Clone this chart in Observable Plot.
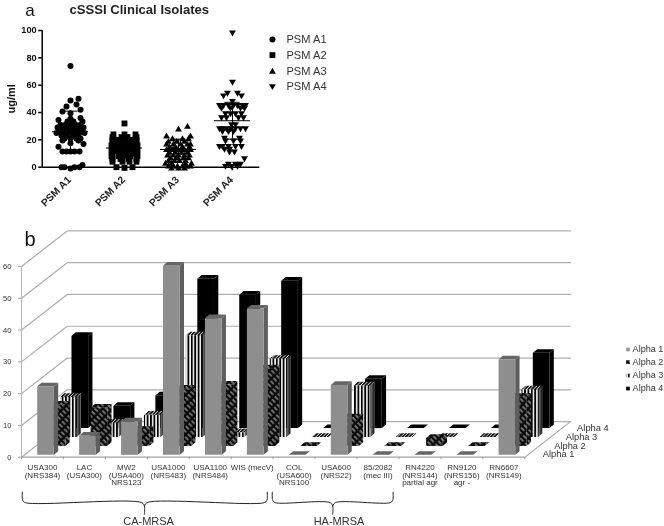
<!DOCTYPE html>
<html>
<head>
<meta charset="utf-8">
<script src="https://cdn.jsdelivr.net/npm/d3@7"></script>
<script src="https://cdn.jsdelivr.net/npm/@observablehq/plot@0.6"></script>
<style>
  html, body { margin: 0; padding: 0; background: #fff; }
  svg { display: block; filter: blur(0.45px); }
</style>
</head>
<body>
<div id="chart"></div>
<script>
// ---------- panel a : rows of [ug/ml, horizontal swarm slots of the points in that row]
const psmNames = ["PSM A1", "PSM A2", "PSM A3", "PSM A4"];
const psmMeans = [26, 14, 13, 34];
const psmSd = [15, 7, 7.5, 13.5];
const psmA1 = [[74,[0]],[50,[8]],[48.8,[0]],[45.9,[6]],[44.4,[-4]],[42,[10]],[40.7,[-8]],[39.5,[0]],[36,[10]],[35.4,[0]],
  [34.6,[-12]],[33.4,[-3,3,12]],[31,[-10,-5,0,5,10]],[29,[-13,-8,-3,3,8,13]],[27,[-11,-6,-2,2,6,11]],[25,[-14,-9,-4,1,5,9,14]],
  [23,[-9,-4,2,7]],[21,[-6,0,6,10]],[19.5,[-8,8]],[17.5,[0]],[17,[13]],[15,[-12]],[11.5,[-8,-4,0,4,9]],[1.7,[12]],[0,[-9,-6,4,9]],[-1,[0]]];
const psmA2 = [[32,[0]],[24,[-11,0,11]],[22,[-12,-3,3,12]],[20,[-12,-7,-2,4,9,12]],[18,[-12,-6,0,6,12]],[16,[-13,-8,-3,3,8,13]],
  [14,[-12,-6,0,6,12]],[12,[-13,-7,-2,4,9,13]],[10,[-12,-5,2,8,12]],[8,[-13,-6,0,6,13]],[6,[-12,-4,4,12]],[4,[-12,-2,5,12]],[0,[-8,8]],[-0.5,[0]]];
const psmA3 = [[30,[9]],[28,[0]],[23,[-12,12]],[21,[-6,4,10]],[19,[-10,-2,6]],[17,[-12,-5,2,9,12]],[15,[-9,-3,4,11]],
  [13,[-12,-6,0,6,12]],[11,[-9,-3,3,9]],[9,[-11,-5,0,6,11]],[7,[-8,-2,5,10]],[5,[-10,-4,1,7]],[3,[-13,-7,7,13]],[1,[-10,-5,-1,4,8,12]],[-0.5,[-7,0,6]]];
const psmA4 = [[98,[0]],[62,[0]],[54,[-5,5]],[52,[-9,9]],[48,[0]],[45,[-13,-9,-4,1,5,10,13]],[43,[-11,-2,8,12]],[39,[-7,-2,3,9]],
  [36,[-11,-6,6,11]],[31,[-1,3]],[28,[-13,-10,-6,-2,3,8,13]],[26,[-10,-4,1]],[21,[-8,7]],[19,[-7,1,8]],[15,[-13,-10,-4,3,9]],[13,[-8,-3]],[11,[-3,2]],[6,[12]],[2,[-4,3,8]],[0.5,[-7,-1,5]]];
const psmSeries = [psmA1, psmA2, psmA3, psmA4];
const yTicksA = [0, 20, 40, 60, 80, 100];

// ---------- panel b
const strains = ["USA300\n(NRS384)", "LAC\n(USA300)", "MW2\n(USA400)\nNRS123", "USA1000\n(NRS483)", "USA1100\n(NRS484)", "WIS (mecV)",
  "COL\n(USA600)\nNRS100", "USA600\n(NRS22)", "85/2082\n(mec III)", "RN4220\n(NRS144)\npartial agr", "RN9120\n(NRS156)\nagr -", "RN6607\n(NRS149)"];
const alpha1 = [21.5, 6, 10.5, 59.5, 43, 46, 0, 22, 0, 0, 0, 30];
const alpha2 = [13, 12, 5, 18, 19.3, 24.4, 0, 9, 0, 2.5, 0, 15.5];
const alpha3 = [12.6, 4.5, 7, 32, 1.5, 24.6, 0, 16.2, 0, 0, 0, 15];
const alpha4 = [29, 7, 10.3, 47, 42, 46.4, 0, 15.5, 0, 0, 0, 23.7];
const alphaNames = ["Alpha 1", "Alpha 2", "Alpha 3", "Alpha 4"];
const yTicksB = [0, 10, 20, 30, 40, 50, 60];
const groups = [{label: "CA-MRSA", from: 0.02, to: 5.86, mid: 2.93, text: 3.03}, {label: "HA-MRSA", from: 5.98, to: 8.86, mid: 7.42, text: 7.57}];

// ---------- panel a plot
const SLOT = 1 / 54;
const symbolUp = {draw(c, s) { const k = Math.sqrt(s / Math.PI); c.moveTo(0, -k * 1.05); c.lineTo(k * 1.1, k * 0.85); c.lineTo(-k * 1.1, k * 0.85); c.closePath(); }};
const symbolDown = {draw(c, s) { const k = Math.sqrt(s / Math.PI); c.moveTo(0, k * 1.05); c.lineTo(k * 1.1, -k * 0.85); c.lineTo(-k * 1.1, -k * 0.85); c.closePath(); }};
const psmSymbols = ["circle", "square", symbolUp, symbolDown];
const psmRadius = [3, 3.3, 3.1, 3.1];
const swarmMarks = psmSeries.map((rows, i) => {
  const pts = rows.flatMap(([v, slots]) => slots.map(s => ({x: i + s * SLOT, v})));
  return Plot.dot(pts, {x: "x", y: "v", symbol: psmSymbols[i], r: psmRadius[i], fill: "#000", stroke: "none"});
});
const psmIdx = psmNames.map((_, i) => i);
const LEG_X = 3.74, LEG_TXT = 4.0;
const legendY = [93.5, 82, 70.3, 58.8];

const chartA = Plot.plot({
  width: 664, height: 215,
  marginLeft: 41.7, marginRight: 404.7, marginTop: 30, marginBottom: 48.3,
  style: {fontFamily: "'Liberation Sans', Arial, sans-serif", background: "transparent", overflow: "visible"},
  x: {domain: [-0.524, 3.506]},
  y: {domain: [0, 100]},
  marks: [
    ...swarmMarks,
    Plot.ruleY(psmIdx, {y: i => psmMeans[i], x1: i => i - 0.333, x2: i => i + 0.333, stroke: "#000", strokeWidth: 1}),
    Plot.ruleX(psmIdx, {x: i => i, y1: i => psmMeans[i] - psmSd[i], y2: i => psmMeans[i] + psmSd[i], stroke: "#000", strokeWidth: 1}),
    Plot.ruleY(psmIdx, {y: i => psmMeans[i] + psmSd[i], x1: i => i - 0.14, x2: i => i + 0.14, stroke: "#000", strokeWidth: 1}),
    Plot.ruleY(psmIdx, {y: i => psmMeans[i] - psmSd[i], x1: i => i - 0.14, x2: i => i + 0.14, stroke: "#000", strokeWidth: 1}),
    Plot.ruleY([0], {stroke: "#000", strokeWidth: 1.5}),
    Plot.ruleX([-0.524], {y1: 0, y2: 100, stroke: "#000", strokeWidth: 1.5}),
    Plot.axisY({ticks: yTicksA, tickSize: 3.5, tickPadding: 2, strokeWidth: 1.5, fontSize: 9.2, fontWeight: "bold", fill: "#111", label: null, tickFormat: d => d}),
    Plot.axisX({ticks: psmIdx, tickSize: 3.5, strokeWidth: 1.5, tickFormat: () => "", label: null}),
    Plot.text(psmIdx, {x: i => i - SLOT, y: -8, text: i => psmNames[i], rotate: -45, textAnchor: "end", fontSize: 10.2, fontWeight: "bold", fill: "#222"}),
    Plot.text(["ug/ml"], {x: -1.1, y: 50, rotate: -90, fontSize: 11, fontWeight: "bold", fill: "#111"}),
    Plot.text(["cSSSI Clinical Isolates"], {x: -0.02, y: 115, textAnchor: "start", fontSize: 13.1, fontWeight: "bold", fill: "#222"}),
    Plot.text(["a"], {x: -0.84, y: 114.4, textAnchor: "start", fontSize: 17, fill: "#111"}),
    ...psmIdx.map(i => Plot.dot([i], {x: () => LEG_X, y: () => legendY[i], symbol: psmSymbols[i], r: psmRadius[i], fill: "#000"})),
    Plot.text(psmIdx, {x: () => LEG_TXT, y: i => legendY[i], text: i => psmNames[i], textAnchor: "start", fontSize: 11.1, fill: "#333"})
  ]
});

// ---------- panel b plot (oblique projection of strain, series depth and value)
const DC = 0.2725, DV = 2.8;            // shift of one depth row, in strain units and value units
const X0 = 0.374, V0 = 0.75, W = 0.398; // bar place inside its strain slot
const SX = 0.1025, SV = 1.15;           // bar depth
const alphaSeries = [alpha1, alpha2, alpha3, alpha4];
const faceFill = [
  {front: "#8e8e8e", side: "#5e5e5e", top: "#666666"},
  {front: "url(#hatch)", side: "url(#hatch)", top: "url(#hatch)"},
  {front: "url(#stripes)", side: "url(#stripesDark)", top: "url(#stripesTop)"},
  {front: "#000", side: "#000", top: "#000"}
];
function faces(r) {
  const front = [], side = [], topFace = [];
  alphaSeries[r].forEach((v, i) => {
    const x = i + X0 + r * DC, b = V0 + r * DV, t = b + v;
    const poly = (arr, pts) => pts.forEach(([px, py]) => arr.push({id: i, px, py}));
    if (v > 0) {
      poly(front, [[x, b], [x + W, b], [x + W, t], [x, t]]);
      poly(side, [[x + W, b], [x + W + SX, b + SV], [x + W + SX, t + SV], [x + W, t]]);
    }
    poly(topFace, [[x, t], [x + W, t], [x + W + SX, t + SV], [x + SX, t + SV]]);
  });
  return {front, side, topFace};
}
const face = (data, fill) => Plot.line(data, {x: "px", y: "py", z: "id", fill, stroke: "none"});
const barMarks = [3, 2, 1, 0].flatMap(r => {
  const f = faces(r);
  return [face(f.side, faceFill[r].side), face(f.topFace, faceFill[r].top), face(f.front, faceFill[r].front)];
});
const wallX = 4 * DC, wallV = 4 * DV;
const gridPts = yTicksB.flatMap(v => [{id: v, px: 0, py: v}, {id: v, px: wallX, py: v + wallV}, {id: v, px: 12 + wallX, py: v + wallV}]);
const edgePts = [{px: 12, py: 0}, {px: 12 + wallX, py: wallV}];
const braceData = groups.flatMap(g => {
  const a = g.label + "a", b = g.label + "b";
  return [
    {id: a, px: g.from, py: -11}, {id: a, px: g.from + 0.01, py: -13.6}, {id: a, px: g.from + 0.07, py: -14.3},
    {id: a, px: g.mid - 0.06, py: -14.3}, {id: a, px: g.mid, py: -15.4}, {id: a, px: g.mid, py: -18},
    {id: b, px: g.to, py: -11}, {id: b, px: g.to - 0.01, py: -13.6}, {id: b, px: g.to - 0.07, py: -14.3},
    {id: b, px: g.mid + 0.06, py: -14.3}, {id: b, px: g.mid, py: -15.4}
  ];
});
const LEGB_X = 14.46, LEGB_TXT = 14.57;
const legendBY = [33.9, 29.9, 25.7, 21.6];
const depthIdx = [0, 1, 2, 3];

const chartB = Plot.plot({
  width: 664, height: 311,
  marginLeft: 21, marginRight: 139.7, marginTop: 51, marginBottom: 69.3,
  style: {fontFamily: "'Liberation Sans', Arial, sans-serif", background: "transparent", overflow: "visible"},
  x: {domain: [0, 12]},
  y: {domain: [0, 60]},
  marks: [
    Plot.line(gridPts, {x: "px", y: "py", z: "id", stroke: "#adadad", strokeWidth: 1.2}),
    Plot.line(edgePts, {x: "px", y: "py", stroke: "#adadad", strokeWidth: 1.2}),
    ...barMarks,
    Plot.ruleX([0], {y1: 0, y2: 60, stroke: "#b5b5b5", strokeWidth: 1}),
    Plot.ruleY([0], {x1: 0, x2: 12, stroke: "#a0a0a0", strokeWidth: 1.2}),
    Plot.axisY({ticks: yTicksB, tickSize: 3, tickPadding: 7, stroke: "#a0a0a0", fontSize: 7.6, fill: "#333", label: null, tickFormat: d => d}),
    Plot.axisX({ticks: d3.range(13), tickSize: 2.5, stroke: "#a0a0a0", tickFormat: () => "", label: null}),
    Plot.text(strains, {x: (d, i) => i + 0.5, y: -2.4, text: d => d, lineAnchor: "top", lineHeight: 0.95, fontSize: 8, fill: "#333"}),
    Plot.line(braceData, {x: "px", y: "py", z: "id", stroke: "#222", strokeWidth: 1, curve: "catmull-rom"}),
    Plot.text(groups, {x: "text", y: -20.1, text: "label", fontSize: 11, fill: "#333"}),
    Plot.text(depthIdx, {x: r => 12.43 + r * DC, y: r => 0.85 + r * DV, text: r => alphaNames[r], textAnchor: "start", fontSize: 9.3, fill: "#333"}),
    Plot.dot(depthIdx, {x: () => LEGB_X, y: r => legendBY[r], symbol: "square", r: 2.1, fill: r => r === 0 ? "#9a9a9a" : faceFill[r].front}),
    Plot.text(depthIdx, {x: () => LEGB_TXT, y: r => legendBY[r], text: r => alphaNames[r], textAnchor: "start", fontSize: 9.1, fill: "#333"}),
    Plot.text(["b"], {x: 0.07, y: 68.4, textAnchor: "start", fontSize: 20, fill: "#111"})
  ]
});

// patterns used by the hatched and striped series
d3.select(chartB).insert("defs", ":first-child").html(`
  <pattern id="hatch" width="7" height="4" patternUnits="userSpaceOnUse" patternTransform="rotate(45)">
    <rect width="7" height="4" fill="#0a0a0a"/><rect x="0" y="1.5" width="4.5" height="0.9" fill="#e4e4e4"/>
  </pattern>
  <pattern id="stripes" width="3.4" height="4" patternUnits="userSpaceOnUse">
    <rect width="3.4" height="4" fill="#f4f4f4"/><rect width="1.8" height="4" fill="#000"/>
  </pattern>
  <pattern id="stripesDark" width="3" height="4" patternUnits="userSpaceOnUse">
    <rect width="3" height="4" fill="#777"/><rect width="1.5" height="4" fill="#111"/>
  </pattern>
  <pattern id="stripesTop" width="3.4" height="4" patternUnits="userSpaceOnUse" patternTransform="skewX(-45)">
    <rect width="3.4" height="4" fill="#e8e8e8"/><rect width="2.4" height="4" fill="#111"/>
  </pattern>`);

document.getElementById("chart").append(chartA, chartB);
</script>
</body>
</html>
